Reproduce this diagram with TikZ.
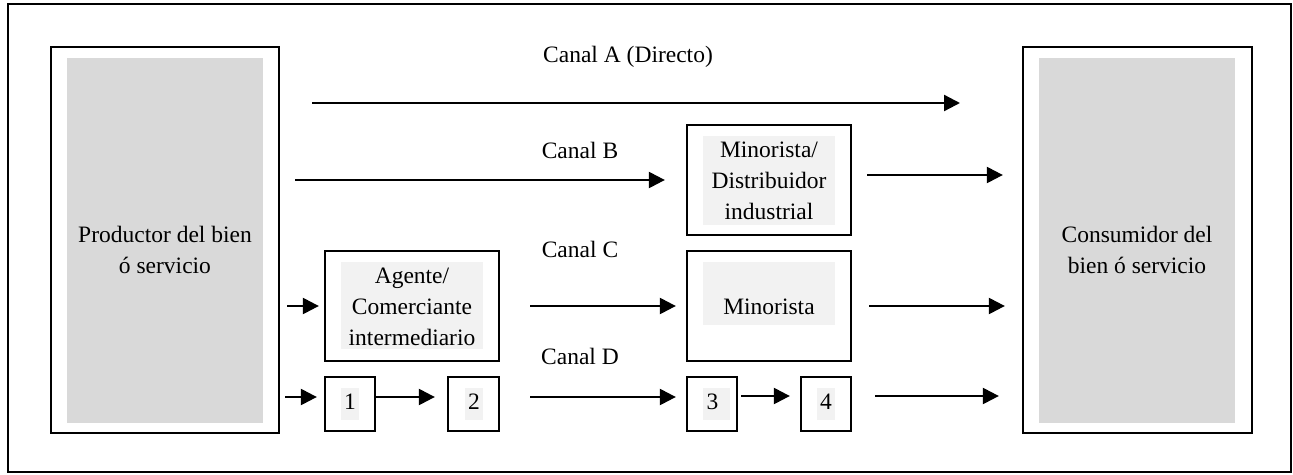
\documentclass[tikz,border=0pt]{standalone}
\usepackage{fontspec}
\setmainfont{Liberation Serif}
\newfontfamily\serfont{Liberation Serif}
\usetikzlibrary{arrows.meta}
\definecolor{dkgrey}{HTML}{D9D9D9}
\definecolor{ltgrey}{HTML}{F2F2F2}
\tikzset{
  box/.style={draw=black, line width=2.3pt, rectangle, inner sep=0pt, fill=white},
  bigshade/.style={fill=dkgrey, draw=none, rectangle, inner sep=0pt},
  smallshade/.style={fill=ltgrey, draw=none, rectangle, inner sep=0pt},
  lbl/.style={align=center, inner sep=0pt, text=black, font=\serfont\fontsize{23.5pt}{31pt}\selectfont},
  arr/.style={-{Triangle[length=16pt,width=16pt]}, line width=2.3pt},
}
\begin{document}
\begin{tikzpicture}[x=1pt,y=-1pt]
\useasboundingbox (0,0) rectangle (1293,474);
\draw[line width=2.3pt] (8,4) rectangle (1291,472);

% producer / consumer
\node[box, minimum width=228pt, minimum height=386pt] (prod) at (165,240) {};
\node[bigshade, minimum width=196pt, minimum height=365pt] (prodin) at (165,240.5) {};
\node[lbl] (prodt) at (165,250) {Productor del bien\\ó servicio};
\node[box, minimum width=229pt, minimum height=386pt] (cons) at (1137.5,240) {};
\node[bigshade, minimum width=196pt, minimum height=365pt] (consin) at (1137,240.5) {};
\node[lbl] (const) at (1137,250) {Consumidor del\\bien ó servicio};

% channel B box
\node[box, minimum width=164pt, minimum height=110pt] (minB) at (769,180) {};
\node[smallshade, minimum width=132pt, minimum height=89pt] (minBin) at (769,180.5) {};
\node[lbl] (minBt) at (769,181) {Minorista/\\Distribuidor\\industrial};

% channel C boxes
\node[box, minimum width=174pt, minimum height=110pt] (ag) at (412,306) {};
\node[smallshade, minimum width=142pt, minimum height=87pt] (agin) at (412,305.5) {};
\node[lbl] (agt) at (412,307) {Agente/\\Comerciante\\intermediario};
\node[box, minimum width=164pt, minimum height=110pt] (minC) at (769,306) {};
\node[smallshade, minimum width=132pt, minimum height=63pt] (minCin) at (769,293.5) {};
\node[lbl] (minCt) at (769,307) {Minorista};

% channel D boxes
\node[box, minimum width=50pt, minimum height=54pt] (d1) at (350,404) {};
\node[smallshade, minimum width=18pt, minimum height=32pt] (d1in) at (350,404) {};
\node[lbl] (d1t) at (350,402) {1};
\node[box, minimum width=51pt, minimum height=54pt] (d2) at (473.5,404) {};
\node[smallshade, minimum width=18pt, minimum height=32pt] (d2in) at (474,404) {};
\node[lbl] (d2t) at (474,402) {2};
\node[box, minimum width=50pt, minimum height=54pt] (d3) at (712,404) {};
\node[smallshade, minimum width=27pt, minimum height=32pt] (d3in) at (716.5,404) {};
\node[lbl] (d3t) at (712.5,402) {3};
\node[box, minimum width=50pt, minimum height=54pt] (d4) at (826,404) {};
\node[smallshade, minimum width=18pt, minimum height=32pt] (d4in) at (826,404) {};
\node[lbl] (d4t) at (826,402) {4};

% labels
\node[lbl, anchor=base] (la) at (628,62) {Canal A (Directo)};
\node[lbl, anchor=base] (lb) at (580,158) {Canal B};
\node[lbl, anchor=base] (lc) at (580,257) {Canal C};
\node[lbl, anchor=base] (ld) at (580,364) {Canal D};

% arrows
\coordinate (aS) at (312,103);
\coordinate (aE) at (960,103);
\draw[arr] (aS) -- (aE);

\draw[arr, shorten <=15pt, shorten >=21pt] (prod.east |- minB.west) -- (minB.west);
\draw[arr, shorten <=15pt, shorten >=19pt] ([yshift=5pt]minB.east) -- ([yshift=5pt]minB.east -| cons.west);

\draw[arr, shorten <=7pt, shorten >=5pt] (prod.east |- ag.west) -- (ag.west);
\draw[arr, shorten <=30pt, shorten >=10pt] (ag.east) -- (minC.west);
\draw[arr, shorten <=17pt, shorten >=17pt] (minC.east) -- (minC.east -| cons.west);

\draw[arr, shorten <=5pt, shorten >=7pt] ([yshift=7pt]d1.west -| prod.east) -- ([yshift=7pt]d1.west);
\draw[arr, shorten >=12pt] ([yshift=7pt]d1.east) -- ([yshift=7pt]d2.west);
\draw[arr, shorten <=30pt, shorten >=10pt] ([yshift=7pt]d2.east) -- ([yshift=7pt]d3.west);
\draw[arr, shorten <=3pt, shorten >=10pt] ([yshift=8pt]d3.east) -- ([yshift=8pt]d4.west);
\draw[arr, shorten <=23pt, shorten >=23pt] ([yshift=8pt]d4.east) -- ([yshift=8pt]d4.east -| cons.west);
\end{tikzpicture}
\end{document}
